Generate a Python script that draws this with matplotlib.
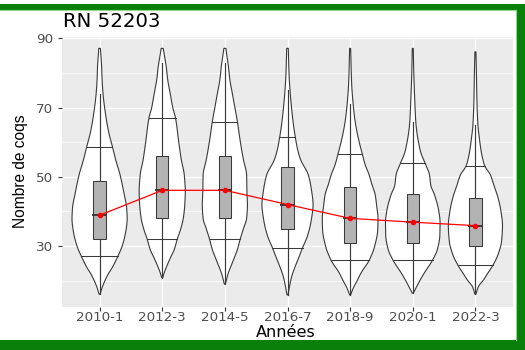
import numpy as np
import matplotlib
matplotlib.use("Agg")
import matplotlib.pyplot as plt
from matplotlib.patches import Rectangle, Polygon

# ---------------- data ----------------
years = ['2010-1', '2012-3', '2014-5', '2016-7', '2018-9', '2020-1', '2022-3']
medians = [38.9, 46.1, 46.1, 42.0, 38.0, 36.9, 35.9]
q1 = [31.9, 38.0, 38.0, 34.9, 30.8, 30.8, 30.0]
q3 = [48.9, 56.1, 56.1, 52.8, 47.0, 45.0, 44.0]
whisk_lo = [16.1, 20.9, 19.0, 15.9, 15.9, 16.4, 16.1]
whisk_hi = [73.8, 82.8, 82.8, 75.1, 71.0, 65.9, 65.0]
q10 = [27.1, 32.0, 32.0, 29.5, 25.9, 26.1, 24.5]
q90 = [58.7, 66.9, 65.9, 61.6, 56.5, 54.1, 53.2]

# violin outlines: levels (number of cocks) and relative density (half-width)
v2010_lv = [16.1, 18, 21.6, 24, 27.1, 30, 34, 37.8, 41, 45, 50.5, 55, 58.7, 63, 68, 73.8, 78, 82, 87.1]
v2010_dn = [0.5, 2.5, 8, 13, 18.3, 22.5, 26, 27.5, 27, 24.5, 20.5, 16, 12.8, 9, 6, 3.5, 2.5, 2, 0.8]
v2012_lv = [20.9, 22.7, 26.5, 29, 32, 35, 38, 42, 45.7, 50.5, 55, 60, 66.9, 70, 74, 78, 81.8, 84.5, 87.1]
v2012_dn = [0.5, 2.5, 8, 12, 15, 18.5, 21, 22.5, 23, 22, 19, 16.5, 13.3, 10.5, 8, 5.5, 4, 2.5, 1]
v2014_lv = [19.0, 21.8, 25.6, 29, 32, 35, 38, 42, 45.7, 50.5, 55, 60, 65.9, 70, 74, 78, 82, 85, 87.1]
v2014_dn = [0.5, 3, 8, 12.5, 15.3, 18.5, 21.7, 22.5, 22, 21.7, 18.5, 15.5, 12.5, 10, 7.5, 5, 3.5, 2, 1]
v2016_lv = [15.9, 18.3, 21, 23.6, 26.5, 29.5, 33, 38, 42, 46, 50.5, 55, 58, 61.6, 66, 70, 75, 80, 87.1]
v2016_dn = [0.5, 2, 4, 7, 11, 15, 20, 24, 25.5, 24, 20.8, 13, 10, 7.7, 5.5, 4, 2.5, 1.5, 0.8]
v2018_lv = [15.9, 17.8, 20, 22.3, 25.9, 30, 34.7, 38, 41.5, 44.8, 48, 50.5, 53.5, 56.5, 59.5, 62.7, 67, 71, 77, 87.1]
v2018_dn = [0.5, 3, 7, 11, 19, 24.5, 27.5, 27.8, 26.5, 25, 21.5, 19, 15, 12.2, 9.5, 7, 4.5, 3, 1.5, 0.5]
v2020_lv = [16.4, 17.8, 20, 22, 26.1, 29, 33.2, 36.9, 40, 44.8, 47.5, 50.5, 54.1, 57, 59.6, 62, 65.9, 72, 80, 87.1]
v2020_dn = [0.5, 3, 7, 11, 20, 24.5, 27, 27.2, 26, 21.7, 18, 16.7, 12, 8, 6, 4.5, 3, 2, 1, 0.5]
v2022_lv = [16.1, 18.3, 20.2, 22, 24.5, 27.5, 31.3, 35.9, 40, 44, 47.5, 50.5, 53.2, 55.5, 57.8, 61, 65, 72, 80, 86.1]
v2022_dn = [0.5, 3, 8, 12, 17.5, 22.5, 26, 27, 25.5, 22.5, 18.5, 15, 9.2, 7, 5.5, 4, 2.5, 1.5, 1, 0.5]

violin_levels = [v2010_lv, v2012_lv, v2014_lv, v2016_lv, v2018_lv, v2020_lv, v2022_lv]
violin_dens = [v2010_dn, v2012_dn, v2014_dn, v2016_dn, v2018_dn, v2020_dn, v2022_dn]

yticks = [30, 50, 70, 90]
title = 'RN 52203'
xlabel = 'Années'
ylabel = 'Nombre de coqs'


# ---------------- helpers ----------------
def pchip(x, y, xn):
    x = np.asarray(x, float)
    y = np.asarray(y, float)
    h = np.diff(x)
    d = np.diff(y) / h
    m = np.zeros_like(y)
    for k in range(1, len(y) - 1):
        if d[k - 1] * d[k] > 0:
            w1 = 2 * h[k] + h[k - 1]
            w2 = h[k] + 2 * h[k - 1]
            m[k] = (w1 + w2) / (w1 / d[k - 1] + w2 / d[k])
    m[0] = d[0]
    m[-1] = d[-1]
    idx = np.clip(np.searchsorted(x, xn) - 1, 0, len(x) - 2)
    t = (xn - x[idx]) / h[idx]
    h00 = 2 * t**3 - 3 * t**2 + 1
    h10 = t**3 - 2 * t**2 + t
    h01 = -2 * t**3 + 3 * t**2
    h11 = t**3 - t**2
    return h00 * y[idx] + h10 * h[idx] * m[idx] + h01 * y[idx + 1] + h11 * h[idx] * m[idx + 1]


W, H = 525, 350
fig = plt.figure(figsize=(W / 100, H / 100), dpi=100)
fig.patch.set_facecolor('white')

# panel position (pixels)
px0, px1, py0, py1 = 62, 513, 36.7, 306.7
ax = fig.add_axes([px0 / W, 1 - py1 / H, (px1 - px0) / W, (py1 - py0) / H])
ax.set_facecolor('#EBEBEB')
n = len(years)
xpos = np.arange(n)
ax.set_xlim(-0.6, n - 0.4)
ax.set_ylim(12.49, 90.46)

for s in ax.spines.values():
    s.set_visible(False)

# grid
for v in [20, 40, 60, 80]:
    ax.axhline(v, color='white', lw=0.5, zorder=0)
for v in yticks:
    ax.axhline(v, color='white', lw=1.0, zorder=0)
for x in xpos:
    ax.axvline(x, color='white', lw=1.0, zorder=0)

maxd = max(max(d) for d in violin_dens)
edge = '#3A3A3A'
for i in range(n):
    lv = violin_levels[i]
    yy = np.linspace(lv[0], lv[-1], 500)
    hw = pchip(lv, violin_dens[i], yy) / maxd * 0.445
    hw = np.clip(hw, 0, None)
    xs = np.concatenate([i - hw, (i + hw)[::-1]])
    ys = np.concatenate([yy, yy[::-1]])
    ax.add_patch(Polygon(np.column_stack([xs, ys]), closed=True, facecolor='white',
                         edgecolor=edge, lw=0.8, zorder=2))
    for q in (q10[i], q90[i]):
        w = float(pchip(lv, violin_dens[i], np.array([q]))[0]) / maxd * 0.445
        ax.plot([i - w, i + w], [q, q], color=edge, lw=0.75, zorder=3)
    # boxplot
    ax.plot([i, i], [whisk_lo[i], q1[i]], color=edge, lw=0.85, zorder=4)
    ax.plot([i, i], [q3[i], whisk_hi[i]], color=edge, lw=0.85, zorder=4)
    ax.add_patch(Rectangle((i - 0.1, q1[i]), 0.2, q3[i] - q1[i], facecolor='#B3B3B3',
                           edgecolor=edge, lw=0.75, zorder=4))
    ax.plot([i - 0.1, i + 0.1], [medians[i], medians[i]], color=edge, lw=1.4, zorder=5)

ax.plot(xpos, medians, color='#FF0000', lw=0.9, zorder=6)
ax.plot(xpos, medians, 'o', color='#FF0000', ms=3.0, mec='#FF0000', zorder=7)

ax.set_xticks(xpos)
ax.set_xticklabels(years)
ax.set_yticks(yticks)
ax.tick_params(axis='both', colors='#333333', length=2.8, width=0.8, labelcolor='#4D4D4D',
               labelsize=9.7)
ax.tick_params(axis='x', pad=0.6)
ax.tick_params(axis='y', pad=3.4)
for lab in ax.get_xticklabels() + ax.get_yticklabels():
    lab.set_family('DejaVu Sans')

fig.text(63 / W, 1 - 26.7 / H, title, fontsize=14.2, family='DejaVu Sans', color='black',
         ha='left', va='baseline')
fig.text(286 / W, 1 - 337 / H, xlabel, fontsize=11.6, family='DejaVu Sans', color='black',
         ha='center', va='baseline')
fig.text(25 / W, 1 - 171.5 / H, ylabel, fontsize=11.2,
         family=['Liberation Sans Narrow', 'Liberation Sans', 'DejaVu Sans'], color='black',
         rotation=90, rotation_mode='anchor', ha='center', va='baseline')

# green frame
green = '#0A800A'
light = '#8FD88F'
fig.patches.append(Rectangle((0, 1 - 9.5 / H), 1, 6 / H, transform=fig.transFigure,
                             facecolor=green, edgecolor='none', zorder=10))
fig.patches.append(Rectangle((516 / W, 0), 9 / W, 1 - 9.5 / H, transform=fig.transFigure,
                             facecolor=green, edgecolor='none', zorder=10))
fig.patches.append(Rectangle((0, 0), 1, 10 / H, transform=fig.transFigure,
                             facecolor=green, edgecolor='none', zorder=10))
fig.lines.append(plt.Line2D([0, 516 / W], [1 - 10 / H, 1 - 10 / H], transform=fig.transFigure,
                            color=light, lw=0.8, zorder=11))
fig.lines.append(plt.Line2D([515.6 / W, 515.6 / W], [10 / H, 1 - 10 / H], transform=fig.transFigure,
                            color=light, lw=0.8, zorder=11))

fig.savefig('out.png', dpi=100, facecolor='white')
